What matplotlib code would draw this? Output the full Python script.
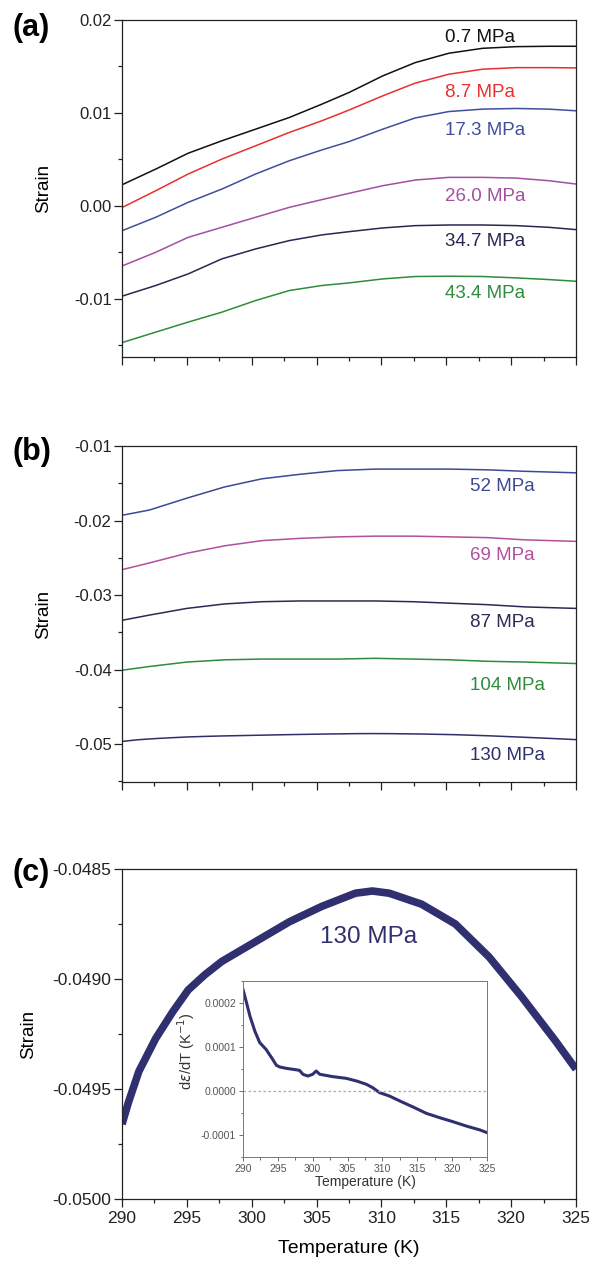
import matplotlib
matplotlib.use("Agg")
import matplotlib.pyplot as plt
from matplotlib.ticker import MultipleLocator, FormatStrFormatter

plt.rcParams['font.family'] = ['Liberation Sans', 'DejaVu Sans']

# ---------------- data ----------------
T_a = [290, 292.6, 295.1, 297.7, 300.3, 302.9, 305.4, 307.5, 310.1, 312.6, 315.2, 317.8, 320.4, 322.9, 325]
s_07 = [0.00225, 0.00394, 0.00565, 0.00699, 0.00824, 0.00950, 0.01093, 0.01219, 0.01398, 0.01541, 0.01642,
        0.01695, 0.01713, 0.01717, 0.01717]
s_87 = [-0.00020, 0.00161, 0.00341, 0.00502, 0.00645, 0.00789, 0.00914, 0.01030, 0.01183, 0.01320, 0.01416,
        0.01470, 0.01487, 0.01487, 0.01484]
s_173 = [-0.00270, -0.00125, 0.00036, 0.00179, 0.00341, 0.00484, 0.00600, 0.00690, 0.00824, 0.00945, 0.01014,
         0.01040, 0.01047, 0.01040, 0.01022]
s_260 = [-0.00650, -0.00502, -0.00341, -0.00233, -0.00125, -0.00018, 0.00065, 0.00133, 0.00215, 0.00276,
         0.00305, 0.00305, 0.00297, 0.00269, 0.00233]
s_347 = [-0.00975, -0.00860, -0.00735, -0.00573, -0.00466, -0.00376, -0.00315, -0.00280, -0.00240, -0.00215,
         -0.00208, -0.00208, -0.00215, -0.00233, -0.00258]
s_434 = [-0.01475, -0.01362, -0.01254, -0.01147, -0.01022, -0.00914, -0.00860, -0.00832, -0.00789, -0.00763,
         -0.00760, -0.00763, -0.00778, -0.00796, -0.00814]
labels_a = ['0.7 MPa', '8.7 MPa', '17.3 MPa', '26.0 MPa', '34.7 MPa', '43.4 MPa']
label_y_a = [0.0181, 0.0122, 0.0081, 0.0010, -0.0039, -0.0095]
colors_a = ['#111111', '#e8302e', '#3f4f9c', '#a2509f', '#26284f', '#2f8c3c']

T_b = [290, 292.1, 295.0, 297.9, 300.8, 303.7, 306.6, 309.5, 312.4, 315.3, 318.2, 321.1, 325]
s_52 = [-0.0193, -0.0186, -0.0170, -0.0155, -0.0144, -0.0138, -0.0133, -0.0131, -0.0131, -0.0131, -0.0132, -0.0134, -0.0136]
s_69 = [-0.0266, -0.0257, -0.0244, -0.0234, -0.0227, -0.0224, -0.0222, -0.0221, -0.0221, -0.0222, -0.0223, -0.0226, -0.0228]
s_87b = [-0.0334, -0.0327, -0.0318, -0.0312, -0.0309, -0.0308, -0.0308, -0.0308, -0.0309, -0.0311, -0.0313, -0.0316, -0.0318]
s_104 = [-0.0401, -0.0396, -0.0390, -0.0387, -0.0386, -0.0386, -0.0386, -0.0385, -0.0386, -0.0387, -0.0389, -0.0390, -0.0392]
labels_b = ['52 MPa', '69 MPa', '87 MPa', '104 MPa', '130 MPa']
label_y_b = [-0.0155, -0.0247, -0.0337, -0.0421, -0.0516]
colors_b = ['#3b4a92', '#b24f9e', '#2a2a55', '#2f8c3c', '#2f2f6c']

T_c = [290, 290.5, 291.3, 292.6, 293.9, 295.1, 296.4, 297.7, 300.3, 302.9, 305.4, 308.0, 309.3, 310.6,
       313.1, 315.7, 318.3, 320.8, 323.4, 325]
s_130 = [-0.04966, -0.04956, -0.04942, -0.04927, -0.04915, -0.04905, -0.04898, -0.04892, -0.04883, -0.04874,
         -0.04867, -0.04861, -0.04860, -0.04861, -0.04866, -0.04875, -0.04890, -0.04908, -0.04928, -0.04941]

T_i = [290, 290.5, 291, 291.7, 292.4, 293.3, 294.1, 294.8, 295.3, 296.2, 297.2, 298.1, 298.6, 299.3, 300.0,
       300.5, 301, 302.9, 304.8, 306.3, 307.7, 308.6, 309.6, 311, 312.5, 314.4, 316.3, 318.2, 320.1, 322, 324, 325]
d_i = [0.000231, 0.000201, 0.000170, 0.000136, 0.000110, 0.0000947, 0.0000758, 0.0000583, 0.0000545, 0.0000515,
       0.0000492, 0.0000470, 0.0000379, 0.0000340, 0.0000380, 0.0000455, 0.0000380, 0.0000326, 0.0000288,
       0.0000227, 0.0000152, 0.0000076, -0.0000038, -0.0000114, -0.0000227, -0.0000364, -0.0000508,
       -0.0000606, -0.0000697, -0.0000795, -0.0000886, -0.0000947]

c130 = '#303070'

# ---------------- figure ----------------
W, H = 589, 1267
fig = plt.figure(figsize=(W / 100, H / 100), dpi=100)

def rect(l, t, r, b):
    return [l / W, 1 - b / H, (r - l) / W, (b - t) / H]

def style(ax, xlabels=False, ytick_fs=12):
    ax.set_xlim(290, 325)
    ax.xaxis.set_major_locator(MultipleLocator(5))
    ax.xaxis.set_minor_locator(MultipleLocator(2.5))
    ax.tick_params(which='both', direction='out', top=False, right=False, width=0.9, colors='#222222')
    ax.tick_params(which='major', length=5.5)
    ax.tick_params(which='minor', length=3)
    ax.tick_params(axis='y', which='major', labelsize=ytick_fs, pad=2)
    ax.tick_params(axis='x', which='major', labelsize=12.5, pad=3)
    if not xlabels:
        ax.tick_params(axis='x', labelbottom=False)
    for sp in ax.spines.values():
        sp.set_linewidth(0.9)
        sp.set_color('#222222')

# (a)
ax1 = fig.add_axes(rect(122, 20, 576, 357))
series_a = [s_07, s_87, s_173, s_260, s_347, s_434]
for s, c, lab, ly in zip(series_a, colors_a, labels_a, label_y_a):
    ax1.plot(T_a, s, color=c, lw=1.1)
    ax1.text(314.9, ly, lab, color=c, fontsize=13.5, va='center', ha='left')
ax1.set_ylim(-0.0163, 0.02)
ax1.yaxis.set_major_locator(MultipleLocator(0.01))
ax1.yaxis.set_minor_locator(MultipleLocator(0.005))
ax1.yaxis.set_major_formatter(FormatStrFormatter('%.2f'))
style(ax1)
ax1.set_ylabel('Strain', fontsize=13.5)
ax1.yaxis.set_label_coords((52 - 122) / 454, 0.5)
fig.text(12 / W, 1 - 28 / H, '(a)', fontsize=22, fontweight='bold', va='center', ha='left')

# (b)
ax2 = fig.add_axes(rect(122, 446, 576, 782))
series_b = [s_52, s_69, s_87b, s_104]
for s, c in zip(series_b, colors_b[:4]):
    ax2.plot(T_b, s, color=c, lw=1.1)
ax2.plot(T_c, s_130, color=colors_b[4], lw=1.1)
for c, lab, ly in zip(colors_b, labels_b, label_y_b):
    ax2.text(316.8, ly, lab, color=c, fontsize=13.5, va='center', ha='left')
ax2.set_ylim(-0.0551, -0.01)
ax2.yaxis.set_major_locator(MultipleLocator(0.01))
ax2.yaxis.set_minor_locator(MultipleLocator(0.005))
ax2.yaxis.set_major_formatter(FormatStrFormatter('%.2f'))
style(ax2)
ax2.set_ylabel('Strain', fontsize=13.5)
ax2.yaxis.set_label_coords((52 - 122) / 454, 0.5)
fig.text(12 / W, 1 - 452 / H, '(b)', fontsize=22, fontweight='bold', va='center', ha='left')

# (c)
ax3 = fig.add_axes(rect(122, 869, 576, 1199))
ax3.plot(T_c, s_130, color=c130, lw=5.5, solid_capstyle='butt', solid_joinstyle='round')
ax3.text(309.0, -0.04881, '130 MPa', color=c130, fontsize=17.5, ha='center', va='center')
ax3.set_ylim(-0.0500, -0.0485)
ax3.yaxis.set_major_locator(MultipleLocator(0.0005))
ax3.yaxis.set_minor_locator(MultipleLocator(0.00025))
ax3.yaxis.set_major_formatter(FormatStrFormatter('%.4f'))
style(ax3, xlabels=True, ytick_fs=12.5)
ax3.set_ylabel('Strain', fontsize=13.5)
ax3.yaxis.set_label_coords((37 - 122) / 454, 0.5)
ax3.set_xlabel('Temperature (K)', fontsize=14, labelpad=10)
fig.text(12 / W, 1 - 873 / H, '(c)', fontsize=22, fontweight='bold', va='center', ha='left')

# inset
axi = fig.add_axes(rect(243, 981, 487, 1157))
axi.plot(T_i, d_i, color=c130, lw=2.2)
axi.axhline(0, color='#aaaaaa', lw=0.9, ls=(0, (2, 2)))
axi.set_xlim(290, 325)
axi.set_ylim(-0.00015, 0.00025)
axi.xaxis.set_major_locator(MultipleLocator(5))
axi.xaxis.set_minor_locator(MultipleLocator(2.5))
axi.yaxis.set_major_locator(MultipleLocator(0.0001))
axi.yaxis.set_minor_locator(MultipleLocator(0.00005))
axi.yaxis.set_major_formatter(FormatStrFormatter('%.4f'))
axi.tick_params(which='both', direction='out', labelsize=7.5, colors='#555555', width=0.6, pad=2)
axi.tick_params(which='major', length=3)
axi.tick_params(which='minor', length=1.8)
for sp in axi.spines.values():
    sp.set_linewidth(0.7)
    sp.set_color('#777777')
axi.set_xlabel('Temperature (K)', fontsize=10, labelpad=1, color='#333333')
axi.set_ylabel(r'd$\varepsilon$/dT (K$^{-1}$)', fontsize=10.5, color='#333333')
axi.yaxis.set_label_coords(-0.19, 0.6)

fig.savefig('out.png', dpi=100)
